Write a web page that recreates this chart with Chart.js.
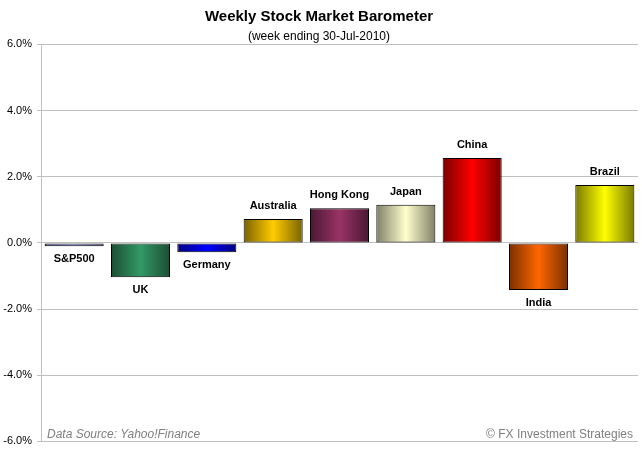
<!DOCTYPE html>
<html>
<head>
<meta charset="utf-8">
<script src="https://cdn.jsdelivr.net/npm/chart.js@4.4.1/dist/chart.umd.min.js"></script>
<style>
  html, body { margin: 0; padding: 0; background: #fff; }
  #wrap { width: 642px; height: 453px; }
</style>
</head>
<body>
<div id="wrap"><canvas id="barometer" width="642" height="453"></canvas></div>
<script>
// weekly % change per market
const markets = ['S&P500', 'UK', 'Germany', 'Australia', 'Hong Kong', 'Japan', 'China', 'India', 'Brazil'];
const changes = [-0.10, -1.04, -0.28, 0.72, 1.05, 1.15, 2.57, -1.42, 1.75];
const yTicks = [-6, -4, -2, 0, 2, 4, 6];

// centre / edge colour for each bar's gradient
const midColors = ['#9999ff', '#339966', '#0000ff', '#ffcc00', '#993366', '#ffffcc', '#ff0000', '#ff6600', '#ffff00'];
const edgeColors = ['#55558a', '#1b4d33', '#000080', '#7a6200', '#4a1832', '#80806a', '#7a0000', '#7a3000', '#7a7a00'];

const BAR_PCT = 0.89;

function barGradient(ctx) {
  const chart = ctx.chart;
  const xs = chart.scales.x;
  if (!xs || !chart.chartArea) return midColors[ctx.dataIndex];
  const cx = xs.getPixelForValue(ctx.dataIndex);
  const half = (xs.width / markets.length) * BAR_PCT / 2;
  const g = chart.ctx.createLinearGradient(cx - half, 0, cx + half, 0);
  g.addColorStop(0, edgeColors[ctx.dataIndex]);
  g.addColorStop(0.5, midColors[ctx.dataIndex]);
  g.addColorStop(1, edgeColors[ctx.dataIndex]);
  return g;
}

// market names above / below the bars, plus the two footer notes
const barLabels = {
  id: 'barLabels',
  afterDatasetsDraw(chart) {
    const c = chart.ctx;
    const meta = chart.getDatasetMeta(0);
    c.save();
    c.font = 'bold 11px Arial, "Liberation Sans", sans-serif';
    c.fillStyle = '#000';
    c.textAlign = 'center';
    c.textBaseline = 'middle';
    meta.data.forEach((el, i) => {
      const y = changes[i] >= 0 ? el.y - 13 : el.y + 13;
      c.fillText(markets[i], el.x, y);
    });

    const area = chart.chartArea;
    c.fillStyle = '#808080';
    c.textAlign = 'left';
    c.font = 'italic 12px Arial, "Liberation Sans", sans-serif';
    c.fillText('Data Source: Yahoo!Finance', area.left + 6, area.bottom - 7);
    c.textAlign = 'right';
    c.font = '12px Arial, "Liberation Sans", sans-serif';
    c.fillText('\u00A9 FX Investment Strategies', area.right - 5, area.bottom - 7);
    c.restore();
  }
};

new Chart(document.getElementById('barometer'), {
  type: 'bar',
  data: {
    labels: markets,
    datasets: [{
      data: changes,
      backgroundColor: barGradient,
      borderColor: '#000',
      borderWidth: 1,
      borderSkipped: false,
      barPercentage: BAR_PCT,
      categoryPercentage: 1
    }]
  },
  options: {
    responsive: false,
    animation: false,
    layout: { padding: { left: 0, right: 4, top: 0, bottom: 11 } },
    plugins: {
      legend: { display: false },
      tooltip: { enabled: false },
      title: {
        display: true,
        text: 'Weekly Stock Market Barometer',
        color: '#000',
        font: { family: 'Arial, "Liberation Sans", sans-serif', size: 15, weight: 'bold' },
        padding: { top: 8, bottom: 3 }
      },
      subtitle: {
        display: true,
        text: '(week ending 30-Jul-2010)',
        color: '#000',
        font: { family: 'Arial, "Liberation Sans", sans-serif', size: 12 },
        padding: { top: 0, bottom: 1 }
      }
    },
    scales: {
      x: { display: false },
      y: {
        min: -6,
        max: 6,
        afterBuildTicks: s => { s.ticks = yTicks.map(v => ({ value: v })); },
        afterFit: s => { s.width = 41; },
        ticks: {
          color: '#000',
          padding: 5,
          font: { family: 'Arial, "Liberation Sans", sans-serif', size: 11 },
          callback: v => v.toFixed(1) + '%'
        },
        grid: { color: '#c0c0c0', tickLength: 4, lineWidth: 1 },
        border: { color: '#c0c0c0' }
      }
    }
  },
  plugins: [barLabels]
});
</script>
</body>
</html>
